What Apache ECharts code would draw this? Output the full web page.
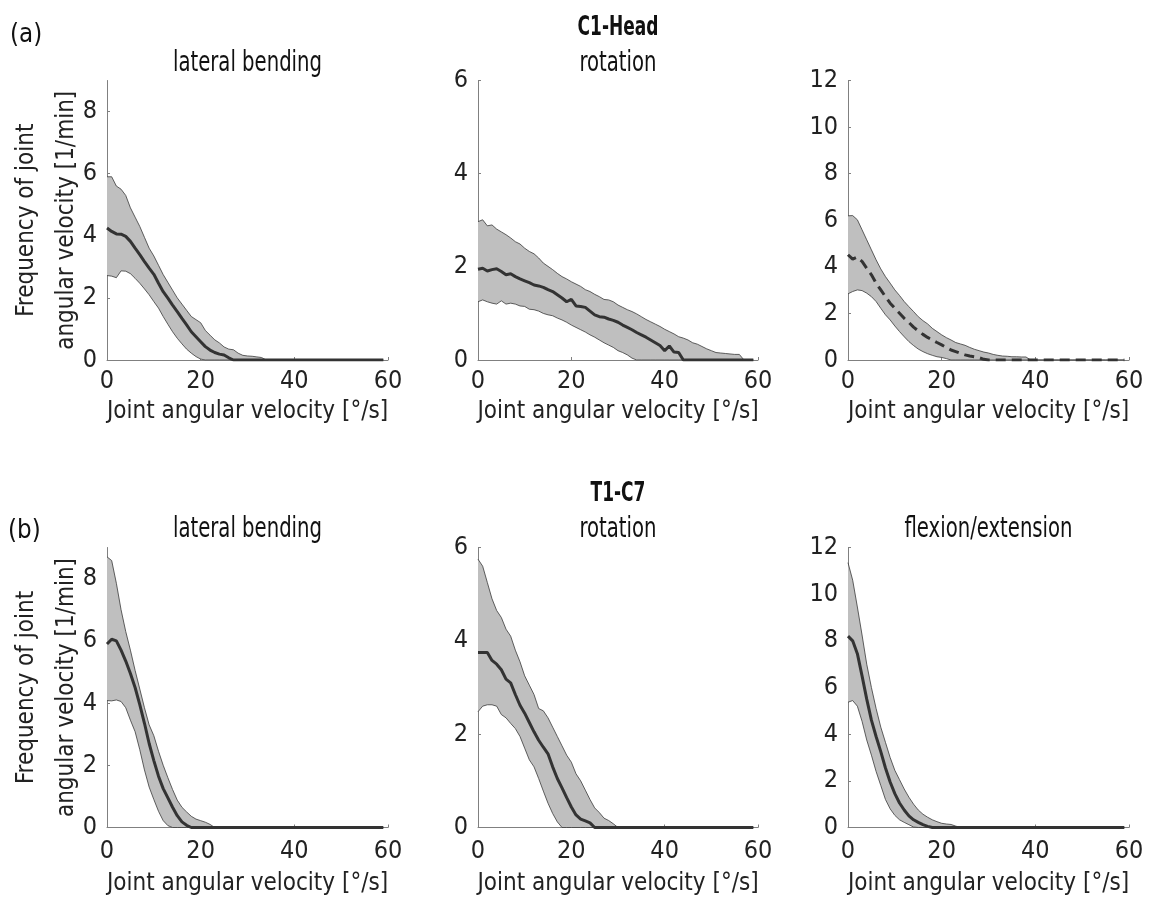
<!DOCTYPE html>
<html>
<head>
<meta charset="utf-8">
<script src="https://cdn.jsdelivr.net/npm/echarts@6/dist/echarts.min.js"></script>
<style>
  html, body { margin: 0; padding: 0; background: #ffffff; }
  #chart { width: 1155px; height: 903px; }
</style>
</head>
<body>
<div id="chart"></div>
<script>
// Joint angular velocity bins [deg/s]
const velocity = [0,1,2,3,4,5,6,7,8,9,10,11,12,13,14,15,16,17,18,19,20,21,22,23,24,25,26,27,28,29,
  30,31,32,33,34,35,36,37,38,39,40,41,42,43,44,45,46,47,48,49,50,51,52,53,54,55,56,57,58,59];

const xTicks = [0, 20, 40, 60];
const yTicks9 = [0, 2, 4, 6, 8];
const yTicks6 = [0, 2, 4, 6];
const yTicks12 = [0, 2, 4, 6, 8, 10, 12];

// C1-Head, lateral bending [1/min]
const c1LatUpper = [5.9,5.9,5.6,5.5,5.3,4.9,4.6,4.3,3.95,3.6,3.35,3.05,2.75,2.5,2.25,2.0,1.8,1.6,1.4,1.3,
  1.2,0.95,0.8,0.65,0.55,0.42,0.35,0.33,0.22,0.15,0.13,0.12,0.1,0.08,0,0,0,0,0,0,
  0,0,0,0,0,0,0,0,0,0,0,0,0,0,0,0,0,0,0,0];
const c1LatLower = [2.72,2.7,2.65,2.87,2.86,2.78,2.63,2.47,2.29,2.1,1.88,1.67,1.4,1.15,0.91,0.7,0.52,0.35,0.22,0.11,
  0.03,0,0,0,0,0,0,0,0,0,0,0,0,0,0,0,0,0,0,0,
  0,0,0,0,0,0,0,0,0,0,0,0,0,0,0,0,0,0,0,0];
const c1LatMean = [4.25,4.14,4.06,4.05,3.98,3.82,3.6,3.39,3.17,2.96,2.76,2.47,2.2,1.99,1.77,1.56,1.34,1.13,0.91,0.75,
  0.59,0.43,0.32,0.24,0.19,0.16,0.07,0,0,0,0,0,0,0,0,0,0,0,0,0,
  0,0,0,0,0,0,0,0,0,0,0,0,0,0,0,0,0,0,0,0];

// C1-Head, rotation [1/min]
const c1RotUpper = [2.97,3.01,2.88,2.9,2.81,2.75,2.69,2.62,2.54,2.49,2.4,2.33,2.28,2.19,2.08,2.01,1.94,1.86,1.79,1.74,
  1.68,1.63,1.58,1.51,1.47,1.41,1.36,1.3,1.29,1.25,1.18,1.13,1.08,1.04,0.99,0.93,0.87,0.82,0.77,0.72,
  0.66,0.61,0.56,0.5,0.47,0.43,0.37,0.34,0.29,0.24,0.2,0.16,0.15,0.14,0.13,0.12,0.12,0,0,0];
const c1RotLower = [1.25,1.29,1.25,1.22,1.2,1.27,1.2,1.22,1.2,1.16,1.15,1.09,1.08,1.05,1.0,0.97,0.95,0.9,0.86,0.81,
  0.75,0.7,0.65,0.6,0.54,0.49,0.43,0.37,0.32,0.27,0.2,0.16,0.11,0.04,0,0,0,0,0,0,
  0,0,0,0,0,0,0,0,0,0,0,0,0,0,0,0,0,0,0,0];
const c1RotMean = [1.95,1.97,1.91,1.94,1.96,1.9,1.83,1.85,1.79,1.74,1.7,1.66,1.61,1.59,1.56,1.51,1.47,1.4,1.33,1.25,
  1.3,1.16,1.15,1.13,1.05,0.97,0.93,0.92,0.88,0.85,0.81,0.75,0.7,0.65,0.59,0.54,0.49,0.43,0.37,0.31,
  0.2,0.3,0.17,0.16,0,0,0,0,0,0,0,0,0,0,0,0,0,0,0,0];

// C1-Head, flexion/extension [1/min]
const c1FlexUpper = [6.19,6.2,6.02,5.59,5.16,4.73,4.3,3.91,3.58,3.3,3.01,2.77,2.51,2.29,2.08,1.86,1.69,1.55,1.36,1.22,
  1.08,0.96,0.86,0.75,0.69,0.63,0.54,0.46,0.4,0.34,0.3,0.24,0.2,0.17,0.16,0.14,0.14,0.13,0.13,0,
  0,0,0,0,0,0,0,0,0,0,0,0,0,0,0,0,0,0,0,0];
const c1FlexLower = [2.84,2.94,3.01,2.98,2.87,2.72,2.51,2.22,1.94,1.72,1.46,1.22,1.0,0.79,0.62,0.47,0.36,0.27,0.2,0.14,
  0.11,0.06,0,0,0,0,0,0,0,0,0,0,0,0,0,0,0,0,0,0,
  0,0,0,0,0,0,0,0,0,0,0,0,0,0,0,0,0,0,0,0];
const c1FlexMean = [4.52,4.33,4.42,4.23,3.94,3.66,3.3,3.01,2.72,2.44,2.22,2.01,1.79,1.61,1.41,1.25,1.1,0.97,0.86,0.75,
  0.65,0.54,0.43,0.36,0.29,0.22,0.17,0.14,0.1,0.03,0,0,0,0,0,0,0,0,0,0,
  0,0,0,0,0,0,0,0,0,0,0,0,0,0,0,0,0,0,0,0];

// T1-C7, lateral bending [1/min]
const t1LatUpper = [8.7,8.58,7.85,7.0,6.3,5.7,5.05,4.45,3.85,3.3,2.95,2.45,2.0,1.6,1.22,0.88,0.65,0.5,0.36,0.27,
  0.22,0.17,0.1,0,0,0,0,0,0,0,0,0,0,0,0,0,0,0,0,0,
  0,0,0,0,0,0,0,0,0,0,0,0,0,0,0,0,0,0,0,0];
const t1LatLower = [4.08,4.07,4.1,4.05,3.85,3.45,3.08,2.5,1.85,1.3,0.9,0.52,0.22,0.06,0,0,0,0,0,0,
  0,0,0,0,0,0,0,0,0,0,0,0,0,0,0,0,0,0,0,0,
  0,0,0,0,0,0,0,0,0,0,0,0,0,0,0,0,0,0,0,0];
const t1LatMean = [5.9,6.05,6.0,5.7,5.35,4.95,4.5,3.95,3.35,2.7,2.15,1.65,1.25,0.95,0.65,0.38,0.18,0.07,0,0,
  0,0,0,0,0,0,0,0,0,0,0,0,0,0,0,0,0,0,0,0,
  0,0,0,0,0,0,0,0,0,0,0,0,0,0,0,0,0,0,0,0];

// T1-C7, rotation [1/min]
const t1RotUpper = [5.75,5.6,5.25,4.9,4.65,4.5,4.25,4.1,3.8,3.55,3.25,3.05,2.85,2.55,2.5,2.35,2.15,1.95,1.75,1.55,
  1.4,1.15,1.0,0.8,0.6,0.42,0.32,0.2,0.15,0.08,0,0,0,0,0,0,0,0,0,0,
  0,0,0,0,0,0,0,0,0,0,0,0,0,0,0,0,0,0,0,0];
const t1RotLower = [2.48,2.6,2.63,2.63,2.6,2.42,2.35,2.23,2.12,1.95,1.7,1.45,1.3,1.05,0.78,0.52,0.3,0.12,0,0,
  0,0,0,0,0,0,0,0,0,0,0,0,0,0,0,0,0,0,0,0,
  0,0,0,0,0,0,0,0,0,0,0,0,0,0,0,0,0,0,0,0];
const t1RotMean = [3.75,3.75,3.75,3.58,3.5,3.38,3.18,3.1,2.85,2.62,2.45,2.25,2.05,1.87,1.72,1.58,1.3,1.05,0.85,0.64,
  0.44,0.27,0.18,0.14,0.1,0,0,0,0,0,0,0,0,0,0,0,0,0,0,0,
  0,0,0,0,0,0,0,0,0,0,0,0,0,0,0,0,0,0,0,0];

// T1-C7, flexion/extension [1/min]
const t1FlexUpper = [11.35,10.6,9.45,8.25,7.0,6.0,5.1,4.3,3.65,3.0,2.45,2.05,1.65,1.3,1.0,0.75,0.57,0.44,0.33,0.25,
  0.18,0.15,0.13,0.06,0,0,0,0,0,0,0,0,0,0,0,0,0,0,0,0,
  0,0,0,0,0,0,0,0,0,0,0,0,0,0,0,0,0,0,0,0];
const t1FlexLower = [5.37,5.44,5.2,4.55,3.75,3.1,2.4,1.8,1.2,0.8,0.52,0.33,0.22,0.12,0.02,0,0,0,0,0,
  0,0,0,0,0,0,0,0,0,0,0,0,0,0,0,0,0,0,0,0,
  0,0,0,0,0,0,0,0,0,0,0,0,0,0,0,0,0,0,0,0];
const t1FlexMean = [8.2,8.0,7.45,6.5,5.5,4.6,3.9,3.25,2.55,1.95,1.45,1.05,0.75,0.5,0.33,0.22,0.12,0.05,0,0,
  0,0,0,0,0,0,0,0,0,0,0,0,0,0,0,0,0,0,0,0,
  0,0,0,0,0,0,0,0,0,0,0,0,0,0,0,0,0,0,0,0];

const xAxisTitle = 'Joint angular velocity [°/s]';
const yAxisTitle = 'Frequency of joint\nangular velocity [1/min]';

// Layout of the 2 x 3 panel grid
const colLeft = [107, 478, 848];
const colWidth = [281, 280, 281];
const rowTop = [80.5, 547.5];
const rowHeight = [279.5, 280];
const rowLabelMargin = [9, 11];
const rowNameGap = [40, 44];

const FONT = "'Liberation Sans Narrow', 'DejaVu Sans Condensed', 'Noto Sans', sans-serif";
const TEXT = '#222222';
const AXIS = '#808080';
const BAND = '#bfbfbf';
const EDGE = '#3a3a3a';
const MEAN = '#333333';

const panels = [
  { row: 0, col: 0, ymax: 9,  yTicks: yTicks9,  upper: c1LatUpper,  lower: c1LatLower,  mean: c1LatMean,  dashed: false },
  { row: 0, col: 1, ymax: 6,  yTicks: yTicks6,  upper: c1RotUpper,  lower: c1RotLower,  mean: c1RotMean,  dashed: false },
  { row: 0, col: 2, ymax: 12, yTicks: yTicks12, upper: c1FlexUpper, lower: c1FlexLower, mean: c1FlexMean, dashed: true },
  { row: 1, col: 0, ymax: 9,  yTicks: yTicks9,  upper: t1LatUpper,  lower: t1LatLower,  mean: t1LatMean,  dashed: false },
  { row: 1, col: 1, ymax: 6,  yTicks: yTicks6,  upper: t1RotUpper,  lower: t1RotLower,  mean: t1RotMean,  dashed: false },
  { row: 1, col: 2, ymax: 12, yTicks: yTicks12, upper: t1FlexUpper, lower: t1FlexLower, mean: t1FlexMean, dashed: false }
];

const grids = [], xAxes = [], yAxes = [], series = [];

panels.forEach((p, i) => {
  grids.push({
    left: colLeft[p.col], top: rowTop[p.row],
    width: colWidth[p.col], height: rowHeight[p.row],
    containLabel: false
  });
  xAxes.push({
    gridIndex: i, type: 'value', min: 0, max: 60, interval: 20,
    axisLine: { show: true, onZero: false, lineStyle: { color: AXIS, width: 1 } },
    axisTick: { show: true, inside: true, length: 3, customValues: xTicks, lineStyle: { color: AXIS } },
    axisLabel: { color: TEXT, fontSize: 25, fontFamily: FONT, margin: rowLabelMargin[p.row], customValues: xTicks },
    splitLine: { show: false },
    name: xAxisTitle, nameLocation: 'middle', nameGap: rowNameGap[p.row],
    nameTextStyle: { color: TEXT, fontSize: 24, fontFamily: FONT }
  });
  const y = {
    gridIndex: i, type: 'value', min: 0, max: p.ymax, interval: 2,
    axisLine: { show: true, lineStyle: { color: AXIS, width: 1 } },
    axisTick: { show: true, inside: true, length: 3, customValues: p.yTicks, lineStyle: { color: AXIS } },
    axisLabel: { color: TEXT, fontSize: 25, fontFamily: FONT, margin: 10, customValues: p.yTicks },
    splitLine: { show: false }
  };
  if (p.col === 0) {
    y.name = yAxisTitle;
    y.nameLocation = 'middle';
    y.nameRotate = 90;
    y.nameGap = 20;
    y.nameMoveOverlap = false;
    y.nameTextStyle = { color: TEXT, fontSize: 24, fontFamily: FONT, lineHeight: 40 };
  }
  yAxes.push(y);

  // shaded spread band between the lower and upper curves
  series.push({
    type: 'custom', coordinateSystem: 'cartesian2d', xAxisIndex: i, yAxisIndex: i,
    data: velocity.map((v, k) => [v, p.lower[k], p.upper[k]]),
    encode: { x: 0, y: [1, 2] },
    silent: true, z: 1,
    renderItem: (params, api) => {
      if (params.dataIndex !== 0) return null;
      const pts = [];
      for (let k = 0; k < velocity.length; k++) pts.push(api.coord([velocity[k], p.upper[k]]));
      for (let k = velocity.length - 1; k >= 0; k--) pts.push(api.coord([velocity[k], p.lower[k]]));
      return { type: 'polygon', shape: { points: pts }, style: { fill: BAND, stroke: null } };
    }
  });
  // band edges
  [p.lower, p.upper].forEach(edge => {
    series.push({
      type: 'line', xAxisIndex: i, yAxisIndex: i,
      data: velocity.map((v, k) => [v, edge[k]]),
      symbol: 'none', silent: true, z: 2,
      lineStyle: { color: EDGE, width: 0.8 }
    });
  });
  // mean curve
  series.push({
    type: 'line', xAxisIndex: i, yAxisIndex: i,
    data: velocity.map((v, k) => [v, p.mean[k]]),
    symbol: 'none', silent: true, z: 3,
    lineStyle: { color: MEAN, width: 3, type: p.dashed ? [10, 6] : 'solid', cap: 'butt' }
  });
});

function label(text, x, y, opts, sx) {
  return {
    type: 'text', x: x, y: y, scaleX: sx || 0.78, silent: true,
    style: Object.assign({
      text: text, fill: '#111111', fontSize: 28, fontFamily: FONT,
      align: 'center', verticalAlign: 'middle'
    }, opts || {})
  };
}

const colCenter = colLeft.map((l, c) => l + colWidth[c] / 2);

const graphics = [
  label('(a)', 10, 35, { align: 'left', fontSize: 27 }, 0.95),
  label('(b)', 8, 531, { align: 'left', fontSize: 27 }, 0.95),
  label('C1-Head', colCenter[1], 28, { fontWeight: 'bold', fontSize: 27 }, 0.7),
  label('lateral bending', colCenter[0], 64),
  label('rotation', colCenter[1], 64),
  label('T1-C7', colCenter[1], 494, { fontWeight: 'bold', fontSize: 27 }, 0.7),
  label('lateral bending', colCenter[0], 530),
  label('rotation', colCenter[1], 530),
  label('flexion/extension', colCenter[2], 530)
];

const chart = echarts.init(document.getElementById('chart'), null, { renderer: 'canvas' });
chart.setOption({
  backgroundColor: '#ffffff',
  animation: false,
  grid: grids,
  xAxis: xAxes,
  yAxis: yAxes,
  series: series,
  graphic: graphics
});
</script>
</body>
</html>
